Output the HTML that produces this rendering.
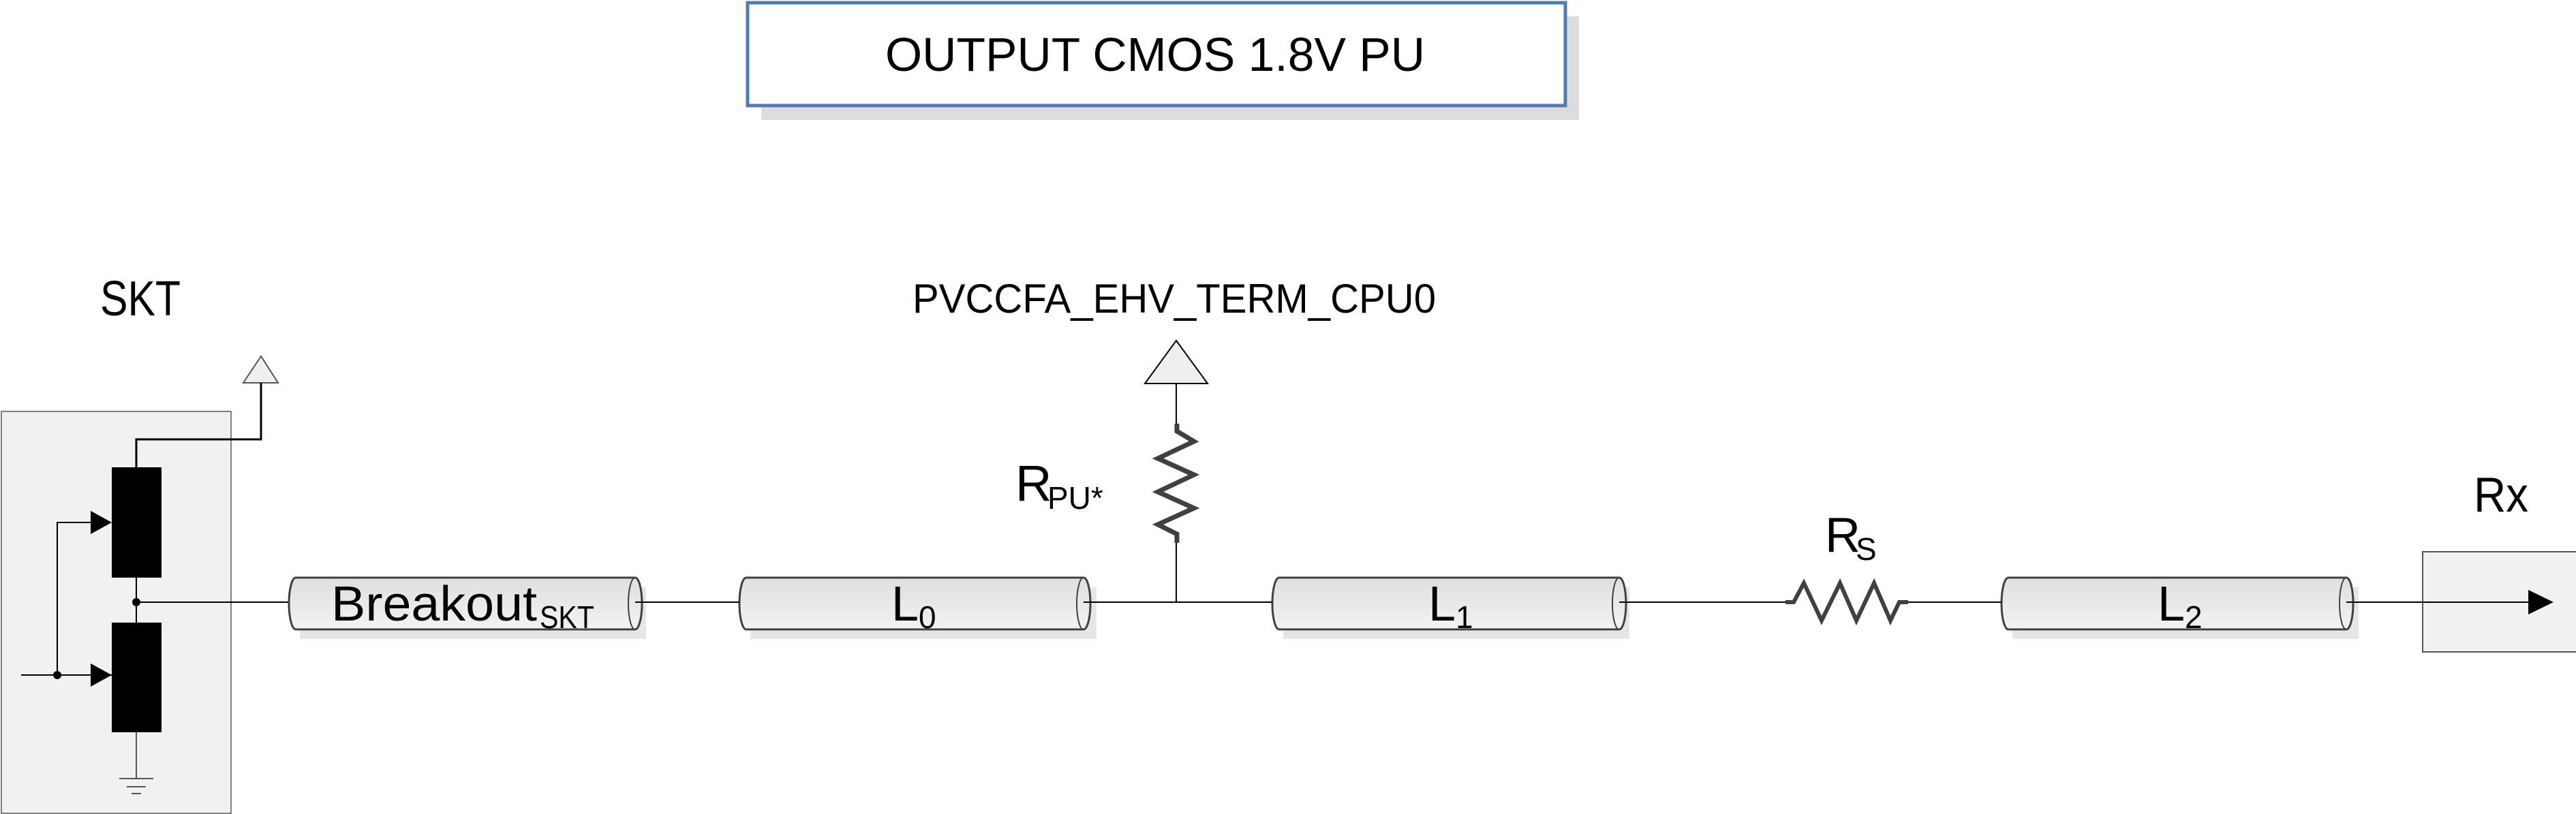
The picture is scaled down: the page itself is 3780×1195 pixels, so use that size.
<!DOCTYPE html>
<html><head><meta charset="utf-8"><style>
html,body{margin:0;padding:0;background:#fff;}
svg{display:block;}
text{font-family:"Liberation Sans",sans-serif;fill:#000;}
</style></head><body>
<svg width="3780" height="1195" viewBox="0 0 3780 1195" xmlns="http://www.w3.org/2000/svg">
<defs>
<linearGradient id="cg" x1="0" y1="0" x2="0" y2="1">
<stop offset="0" stop-color="#dedede"/><stop offset="1" stop-color="#f3f3f3"/>
</linearGradient>
</defs>

<!-- Title -->
<rect x="1117" y="24" width="1200" height="152" fill="#dcdcdc"/>
<rect x="1097" y="4" width="1200" height="151" fill="#fff" stroke="#4f7cb5" stroke-width="5"/>
<text x="1299" y="104" font-size="70" textLength="792" lengthAdjust="spacingAndGlyphs">OUTPUT CMOS 1.8V PU</text>

<!-- SKT -->
<text x="147" y="463" font-size="72" textLength="118" lengthAdjust="spacingAndGlyphs">SKT</text>
<rect x="2" y="604" width="337" height="590" fill="#f1f1f1" stroke="#7f7f7f" stroke-width="2"/>
<polygon points="383,523 357,562 408,562" fill="#efefef" stroke="#555" stroke-width="2"/>
<polyline points="383,562 383,645 200,645 200,686" fill="none" stroke="#000" stroke-width="3"/>
<rect x="164" y="686" width="73" height="162" fill="#000"/>
<rect x="164" y="914" width="73" height="161" fill="#000"/>
<line x1="200" y1="848" x2="200" y2="914" stroke="#000" stroke-width="2"/>
<circle cx="200" cy="884" r="6" fill="#000"/>
<line x1="200" y1="884" x2="424" y2="884" stroke="#000" stroke-width="2"/>
<line x1="31" y1="991" x2="164" y2="991" stroke="#000" stroke-width="2"/>
<circle cx="84" cy="991" r="6" fill="#000"/>
<polyline points="84,991 84,767 140,767" fill="none" stroke="#000" stroke-width="2"/>
<polygon points="133,750 164,767 133,784" fill="#000"/>
<polygon points="133,974 164,991 133,1008" fill="#000"/>
<line x1="200" y1="1075" x2="200" y2="1143" stroke="#555" stroke-width="2"/>
<line x1="175" y1="1143" x2="225" y2="1143" stroke="#555" stroke-width="2"/>
<line x1="186" y1="1155" x2="214" y2="1155" stroke="#555" stroke-width="2"/>
<line x1="193" y1="1165" x2="207" y2="1165" stroke="#555" stroke-width="2"/>

<!-- Cylinders -->
<g stroke="#404040" stroke-width="3">
<!-- Breakout -->
<rect x="440" y="862" width="508" height="76" fill="#e6e6e6" stroke="none"/>
<path d="M434,848 L932,848 A10,38 0 0 1 932,924 L434,924 A10,38 0 0 1 434,848 Z" fill="url(#cg)"/>
<ellipse cx="932" cy="886" rx="10" ry="38" fill="none" stroke-width="2"/>
<!-- L0 -->
<rect x="1101" y="862" width="508" height="76" fill="#e6e6e6" stroke="none"/>
<path d="M1095,848 L1590,848 A10,38 0 0 1 1590,924 L1095,924 A10,38 0 0 1 1095,848 Z" fill="url(#cg)"/>
<ellipse cx="1590" cy="886" rx="10" ry="38" fill="none" stroke-width="2"/>
<!-- L1 -->
<rect x="1883" y="862" width="508" height="76" fill="#e6e6e6" stroke="none"/>
<path d="M1877,848 L2376,848 A10,38 0 0 1 2376,924 L1877,924 A10,38 0 0 1 1877,848 Z" fill="url(#cg)"/>
<ellipse cx="2376" cy="886" rx="10" ry="38" fill="none" stroke-width="2"/>
<!-- L2 -->
<rect x="2953" y="862" width="508" height="76" fill="#e6e6e6" stroke="none"/>
<path d="M2947,848 L3443,848 A10,38 0 0 1 3443,924 L2947,924 A10,38 0 0 1 2947,848 Z" fill="url(#cg)"/>
<ellipse cx="3443" cy="886" rx="10" ry="38" fill="none" stroke-width="2"/>
</g>
<text x="486" y="911" font-size="72" textLength="302" lengthAdjust="spacingAndGlyphs">Breakout</text>
<text x="792" y="922" font-size="46" textLength="80" lengthAdjust="spacingAndGlyphs">SKT</text>
<text x="1308" y="911" font-size="72">L</text><text x="1348" y="922" font-size="46">0</text>
<text x="2096" y="911" font-size="72">L</text><text x="2136" y="922" font-size="46">1</text>
<text x="3166" y="911" font-size="72">L</text><text x="3206" y="922" font-size="46">2</text>

<!-- wires -->
<g stroke="#000" stroke-width="2" fill="none">
<line x1="932" y1="884" x2="1085" y2="884"/>
<line x1="1590" y1="884" x2="1867" y2="884"/>
<line x1="1726" y1="563" x2="1726" y2="622"/>
<line x1="1726" y1="797" x2="1726" y2="884"/>
<line x1="2376" y1="884" x2="2620" y2="884"/>
<line x1="2800" y1="884" x2="2937" y2="884"/>
<line x1="3443" y1="884" x2="3720" y2="884"/>
</g>

<!-- PVCC supply -->
<text x="1339" y="459" font-size="60" textLength="768" lengthAdjust="spacingAndGlyphs">PVCCFA_EHV_TERM_CPU0</text>
<polygon points="1726,500 1680,563 1772,563" fill="#efefef" stroke="#000" stroke-width="2"/>
<polyline points="1727,622 1727,633 1752,648 1699,673 1752,697 1699,722 1752,746 1699,770 1727,784 1727,797" fill="none" stroke="#404040" stroke-width="7" stroke-linejoin="miter"/>
<text x="1490" y="735" font-size="74">R</text>
<text x="1537" y="747" font-size="46">PU*</text>

<!-- Rs -->
<polyline points="2620,884 2632,884 2647,856 2673,911 2700,856 2724,911 2750,856 2774,911 2787,884 2800,884" fill="none" stroke="#404040" stroke-width="6"/>
<text x="2678" y="810" font-size="72">R</text>
<text x="2723" y="822" font-size="46">S</text>

<!-- Rx -->
<text x="3630" y="751" font-size="72" textLength="80" lengthAdjust="spacingAndGlyphs">Rx</text>
<rect x="3555" y="810" width="230" height="147" fill="#f1f1f1" stroke="#555" stroke-width="2"/>
<line x1="3555" y1="884" x2="3715" y2="884" stroke="#000" stroke-width="2"/>
<polygon points="3710,866 3747,884 3710,902" fill="#000"/>
</svg>
</body></html>
